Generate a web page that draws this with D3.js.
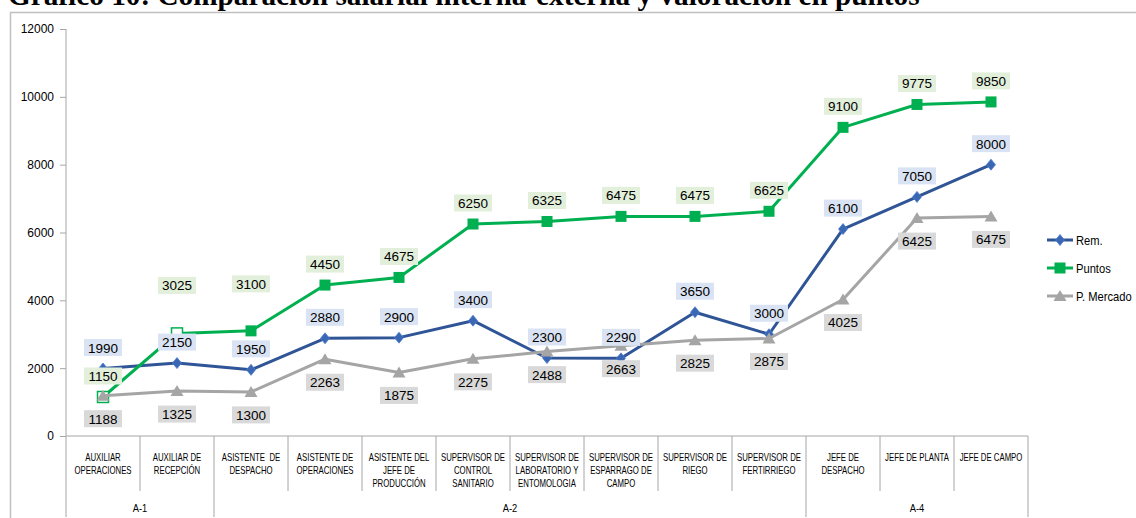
<!DOCTYPE html>
<html><head><meta charset="utf-8">
<script src="https://cdn.jsdelivr.net/npm/d3@7/dist/d3.min.js"></script>
<style>
html,body{margin:0;padding:0;background:#fff;}
svg{display:block;}
</style></head>
<body>
<svg id="c" width="1136" height="518"></svg>
<script>
const titleText = "Gráfico 10: Comparación salarial interna-externa y valoración en puntos";
const categories = [
  "AUXILIAR\nOPERACIONES",
  "AUXILIAR DE\nRECEPCIÓN",
  "ASISTENTE  DE\nDESPACHO",
  "ASISTENTE DE\nOPERACIONES",
  "ASISTENTE DEL\nJEFE DE\nPRODUCCIÓN",
  "SUPERVISOR DE\nCONTROL\nSANITARIO",
  "SUPERVISOR DE\nLABORATORIO Y\nENTOMOLOGIA",
  "SUPERVISOR DE\nESPARRAGO DE\nCAMPO",
  "SUPERVISOR DE\nRIEGO",
  "SUPERVISOR DE\nFERTIRRIEGO",
  "JEFE DE\nDESPACHO",
  "JEFE DE PLANTA",
  "JEFE DE CAMPO"
];
const groupNames = ["A-1", "A-2", "A-4"];
const groupSizes = [2, 8, 3];
const rem     = [1990, 2150, 1950, 2880, 2900, 3400, 2300, 2290, 3650, 3000, 6100, 7050, 8000];
const puntos  = [1150, 3025, 3100, 4450, 4675, 6250, 6325, 6475, 6475, 6625, 9100, 9775, 9850];
const mercado = [1188, 1325, 1300, 2263, 1875, 2275, 2488, 2663, 2825, 2875, 4025, 6425, 6475];
const yTicks  = [0, 2000, 4000, 6000, 8000, 10000, 12000];
const seriesNames = ["Rem.", "Puntos", "P. Mercado"];

// style config (kept apart from data)
const puntosHollow = [true, true];
const puntosLabelExtra = [0, -27, -26];

(function () {
const svg = d3.select("#c");
const pLeft = 66, pRight = 1028, pTop = 29, pBottom = 436;

svg.append("rect").attr("x", 10.5).attr("y", 12.5).attr("width", 1140).attr("height", 520)
  .attr("fill", "none").attr("stroke", "#c0c0c0").attr("stroke-width", 1.5);

const t = svg.append("text").attr("x", 8).attr("y", 5)
  .attr("font-family", "'Liberation Serif','Times New Roman',serif")
  .attr("font-weight", "bold").attr("font-size", 22).attr("fill", "#000").text(titleText);
const tl = t.node().getComputedTextLength();
t.attr("font-size", 22 * 912 / tl);

const x = d3.scaleBand().domain(d3.range(categories.length)).range([pLeft, pRight]).padding(0);
const y = d3.scaleLinear().domain([0, 12000]).range([pBottom, pTop]);
const cx = i => x(i) + x.bandwidth() / 2;

const axisCol = "#a6a6a6";
const font = "'Liberation Sans','Arial',sans-serif";

const yAxis = d3.axisLeft(y).tickValues(yTicks).tickSize(6).tickPadding(6).tickFormat(d3.format("d"));
const ya = svg.append("g").attr("transform", `translate(${pLeft},0)`).call(yAxis);
ya.select(".domain").remove();
ya.selectAll("line").attr("stroke", axisCol);
ya.selectAll("text").attr("font-family", font).attr("font-size", 12).attr("fill", "#000");
svg.append("line").attr("x1", pLeft).attr("x2", pLeft).attr("y1", pTop).attr("y2", 517)
  .attr("stroke", axisCol).attr("stroke-width", 1);

svg.append("line").attr("x1", pLeft).attr("x2", pRight).attr("y1", pBottom).attr("y2", pBottom)
  .attr("stroke", axisCol).attr("stroke-width", 1);

const groupBounds = [0];
groupSizes.forEach((s, i) => groupBounds.push(groupBounds[i] + s));
for (let i = 1; i <= categories.length; i++) {
  const xx = (i < categories.length ? x(i) : pRight);
  const isGroup = groupBounds.includes(i);
  svg.append("line").attr("x1", xx).attr("x2", xx).attr("y1", pBottom).attr("y2", isGroup ? 517 : 491)
    .attr("stroke", axisCol).attr("stroke-width", 1);
}

categories.forEach((c, i) => {
  const lines = c.split("\n");
  const tx = svg.append("text").attr("transform", `translate(${cx(i)},461) scale(0.78,1)`)
    .attr("text-anchor", "middle").attr("font-family", font).attr("font-size", 10).attr("fill", "#000")
    .style("white-space", "pre");
  lines.forEach((l, k) => tx.append("tspan").attr("x", 0).attr("dy", k === 0 ? 0 : 13).text(l));
});
groupNames.forEach((g, i) => {
  const x0 = x(groupBounds[i]);
  const x1 = groupBounds[i + 1] < categories.length ? x(groupBounds[i + 1]) : pRight;
  svg.append("text").attr("transform", `translate(${(x0 + x1) / 2},512) scale(0.85,1)`).attr("text-anchor", "middle")
    .attr("font-family", font).attr("font-size", 11).attr("fill", "#000").text(g);
});

const colors = ["#2f5597", "#00b050", "#a5a5a5"];
const markerFill = ["#3a66b4", "#00b050", "#a5a5a5"];
const line = d3.line().x((d, i) => cx(i)).y(d => y(d));

function marker(g, type, px, py, fill, stroke) {
  if (type === 0) {
    g.append("path").attr("d", `M${px},${py - 5.5}L${px + 4.5},${py}L${px},${py + 5.5}L${px - 4.5},${py}Z`)
      .attr("fill", fill).attr("stroke", "#4a7fd0").attr("stroke-width", 0.8);
  } else if (type === 1) {
    g.append("rect").attr("x", px - 5.5).attr("y", py - 5.5).attr("width", 11).attr("height", 11)
      .attr("fill", fill).attr("stroke", stroke).attr("stroke-width", stroke === "none" ? 0 : 1.5);
  } else {
    g.append("path").attr("d", `M${px},${py - 6}L${px + 6.5},${py + 5}L${px - 6.5},${py + 5}Z`)
      .attr("fill", fill);
  }
}

const allSeries = [rem, puntos, mercado];
const plot = svg.append("g");
allSeries.forEach((s, si) => {
  const g = plot.append("g");
  g.append("path").datum(s).attr("d", line).attr("fill", "none").attr("stroke", colors[si])
    .attr("stroke-width", 3).attr("stroke-linejoin", "round");
  s.forEach((v, i) => {
    if (si === 1 && puntosHollow[i]) marker(g, 1, cx(i), y(v), "#fff", colors[1]);
    else marker(g, si, cx(i), y(v), markerFill[si], "none");
  });
});

const labelBg = ["#dae3f3", "#e2efda", "#d9d9d9"];
const labels = svg.append("g");
allSeries.forEach((s, si) => {
  s.forEach((v, i) => {
    let off = si === 2 ? 23 : -21;
    if (si === 1 && puntosLabelExtra[i]) off += puntosLabelExtra[i];
    const px = cx(i), py = y(v) + off;
    const bw = 38, bh = 17;
    labels.append("rect").attr("x", px - bw / 2).attr("y", py - bh / 2).attr("width", bw).attr("height", bh)
      .attr("fill", labelBg[si]);
    labels.append("text").attr("x", px).attr("y", py + 5).attr("text-anchor", "middle")
      .attr("font-family", font).attr("font-size", 13.5).attr("fill", "#000").text(v);
  });
});

seriesNames.forEach((n, si) => {
  const ly = 240 + si * 28;
  const g = svg.append("g");
  g.append("line").attr("x1", 1047).attr("x2", 1073).attr("y1", ly).attr("y2", ly)
    .attr("stroke", colors[si]).attr("stroke-width", 3);
  marker(g, si, 1060, ly, markerFill[si], "none");
  g.append("text").attr("transform", `translate(1076,${ly + 4.5}) scale(0.86,1)`).attr("font-family", font).attr("font-size", 13)
    .attr("fill", "#000").text(n);
});
})();
</script>
</body></html>
